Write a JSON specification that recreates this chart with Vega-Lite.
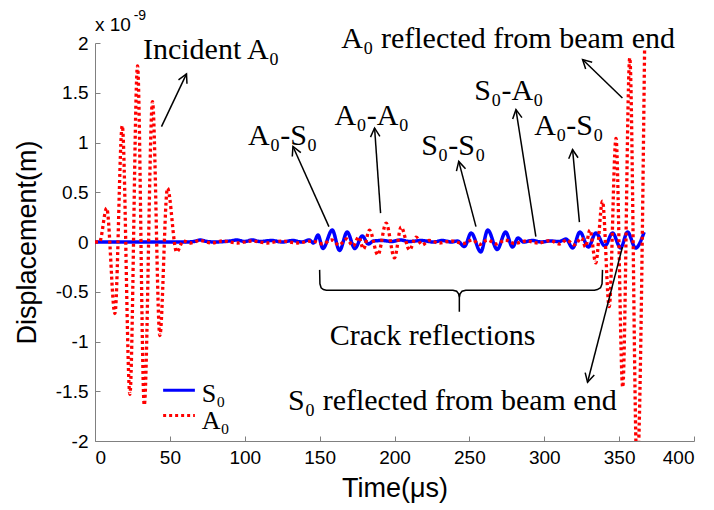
{
  "$schema": "https://vega.github.io/schema/vega-lite/v6.json",
  "autosize": {"type": "none"},
  "width": 599,
  "height": 398,
  "padding": {"left": 95, "top": 43, "right": 20, "bottom": 69},
  "background": "white",
  "config": {
    "view": {"stroke": null},
    "axis": {
      "grid": false,
      "domainColor": "#808080",
      "tickColor": "#808080",
      "domainWidth": 1,
      "tickWidth": 1,
      "tickSize": -5,
      "labelPadding": 12,
      "labelFont": "Liberation Sans",
      "labelFontSize": 19,
      "labelColor": "#000000",
      "titleFont": "Liberation Sans",
      "titleFontSize": 27,
      "titleFontWeight": "normal",
      "titleColor": "#000000"
    }
  },
  "datasets": {
    "waves": [
      {"t": 0, "v": 0, "s": "S₀"}, {"t": 60, "v": 0, "s": "S₀"}, {"t": 66, "v": 0.005, "s": "S₀"}, {"t": 70, "v": 0.02, "s": "S₀"}, {"t": 75, "v": 0.005, "s": "S₀"}, {"t": 80, "v": 0, "s": "S₀"}, {"t": 90, "v": 0.01, "s": "S₀"}, {"t": 95, "v": 0.02, "s": "S₀"}, {"t": 100, "v": 0.005, "s": "S₀"}, {"t": 105, "v": 0.02, "s": "S₀"}, {"t": 110, "v": 0.005, "s": "S₀"}, {"t": 118, "v": 0.015, "s": "S₀"}, {"t": 125, "v": 0, "s": "S₀"}, {"t": 132, "v": 0.015, "s": "S₀"}, {"t": 138, "v": 0, "s": "S₀"}, {"t": 143, "v": 0.02, "s": "S₀"}, {"t": 146, "v": -0.01, "s": "S₀"}, {"t": 148.9, "v": 0.07, "s": "S₀"}, {"t": 152.2, "v": -0.065, "s": "S₀"}, {"t": 158.4, "v": 0.12, "s": "S₀"}, {"t": 163.3, "v": -0.085, "s": "S₀"}, {"t": 168.4, "v": 0.1, "s": "S₀"}, {"t": 173.5, "v": -0.065, "s": "S₀"}, {"t": 178.5, "v": 0.06, "s": "S₀"}, {"t": 182.5, "v": -0.02, "s": "S₀"}, {"t": 186, "v": 0.01, "s": "S₀"}, {"t": 192, "v": 0.015, "s": "S₀"}, {"t": 198, "v": 0.005, "s": "S₀"}, {"t": 204, "v": 0.02, "s": "S₀"}, {"t": 210, "v": 0.005, "s": "S₀"}, {"t": 218, "v": 0.015, "s": "S₀"}, {"t": 226, "v": 0, "s": "S₀"}, {"t": 232, "v": 0.015, "s": "S₀"}, {"t": 238, "v": 0, "s": "S₀"}, {"t": 242, "v": 0.01, "s": "S₀"}, {"t": 246.7, "v": -0.045, "s": "S₀"}, {"t": 251.2, "v": 0.09, "s": "S₀"}, {"t": 257.6, "v": -0.1, "s": "S₀"}, {"t": 262.3, "v": 0.12, "s": "S₀"}, {"t": 268.6, "v": -0.075, "s": "S₀"}, {"t": 274.2, "v": 0.1, "s": "S₀"}, {"t": 278.8, "v": -0.05, "s": "S₀"}, {"t": 282.5, "v": 0.04, "s": "S₀"}, {"t": 286, "v": 0, "s": "S₀"}, {"t": 292, "v": 0.015, "s": "S₀"}, {"t": 298, "v": 0, "s": "S₀"}, {"t": 304, "v": 0.01, "s": "S₀"}, {"t": 310, "v": 0.005, "s": "S₀"}, {"t": 314.5, "v": 0.03, "s": "S₀"}, {"t": 319, "v": -0.06, "s": "S₀"}, {"t": 323.8, "v": 0.1, "s": "S₀"}, {"t": 329.5, "v": -0.05, "s": "S₀"}, {"t": 334.4, "v": 0.09, "s": "S₀"}, {"t": 340.5, "v": -0.04, "s": "S₀"}, {"t": 345.6, "v": 0.09, "s": "S₀"}, {"t": 351, "v": -0.06, "s": "S₀"}, {"t": 355.6, "v": 0.1, "s": "S₀"}, {"t": 361, "v": -0.06, "s": "S₀"}, {"t": 366.7, "v": 0.1, "s": "S₀"},
      {"t": 0, "v": 0, "s": "A₀"}, {"t": 3, "v": 0, "s": "A₀"}, {"t": 7.8, "v": 0.34, "s": "A₀"}, {"t": 13.3, "v": -0.72, "s": "A₀"}, {"t": 18.2, "v": 1.17, "s": "A₀"}, {"t": 23.3, "v": -1.53, "s": "A₀"}, {"t": 28.4, "v": 1.77, "s": "A₀"}, {"t": 32.9, "v": -1.64, "s": "A₀"}, {"t": 38.4, "v": 1.41, "s": "A₀"}, {"t": 43.3, "v": -0.94, "s": "A₀"}, {"t": 48.4, "v": 0.54, "s": "A₀"}, {"t": 54.5, "v": -0.1, "s": "A₀"}, {"t": 59, "v": 0.01, "s": "A₀"}, {"t": 64, "v": -0.01, "s": "A₀"}, {"t": 70, "v": 0.015, "s": "A₀"}, {"t": 78, "v": -0.01, "s": "A₀"}, {"t": 85, "v": 0.01, "s": "A₀"}, {"t": 95, "v": -0.01, "s": "A₀"}, {"t": 105, "v": 0.01, "s": "A₀"}, {"t": 115, "v": -0.01, "s": "A₀"}, {"t": 125, "v": 0.01, "s": "A₀"}, {"t": 135, "v": -0.01, "s": "A₀"}, {"t": 145, "v": 0.01, "s": "A₀"}, {"t": 152, "v": -0.02, "s": "A₀"}, {"t": 158, "v": 0.02, "s": "A₀"}, {"t": 163, "v": -0.03, "s": "A₀"}, {"t": 168, "v": 0.03, "s": "A₀"}, {"t": 172.5, "v": -0.04, "s": "A₀"}, {"t": 176, "v": 0.05, "s": "A₀"}, {"t": 179.3, "v": -0.07, "s": "A₀"}, {"t": 183.3, "v": 0.12, "s": "A₀"}, {"t": 188.9, "v": -0.13, "s": "A₀"}, {"t": 194.4, "v": 0.19, "s": "A₀"}, {"t": 200, "v": -0.16, "s": "A₀"}, {"t": 204.4, "v": 0.15, "s": "A₀"}, {"t": 210, "v": -0.08, "s": "A₀"}, {"t": 214.4, "v": 0.05, "s": "A₀"}, {"t": 218.5, "v": -0.03, "s": "A₀"}, {"t": 223, "v": 0.015, "s": "A₀"}, {"t": 230, "v": -0.01, "s": "A₀"}, {"t": 238, "v": 0.01, "s": "A₀"}, {"t": 246, "v": -0.015, "s": "A₀"}, {"t": 252, "v": 0.02, "s": "A₀"}, {"t": 257, "v": -0.025, "s": "A₀"}, {"t": 262, "v": 0.02, "s": "A₀"}, {"t": 268, "v": -0.02, "s": "A₀"}, {"t": 274, "v": 0.02, "s": "A₀"}, {"t": 280, "v": -0.015, "s": "A₀"}, {"t": 288, "v": 0.01, "s": "A₀"}, {"t": 296, "v": -0.01, "s": "A₀"}, {"t": 304, "v": 0.015, "s": "A₀"}, {"t": 310, "v": -0.02, "s": "A₀"}, {"t": 315, "v": 0.02, "s": "A₀"}, {"t": 320, "v": -0.03, "s": "A₀"}, {"t": 325, "v": 0.04, "s": "A₀"}, {"t": 327.5, "v": -0.05, "s": "A₀"}, {"t": 330.5, "v": 0.12, "s": "A₀"}, {"t": 334.4, "v": -0.21, "s": "A₀"}, {"t": 338.9, "v": 0.41, "s": "A₀"}, {"t": 343.4, "v": -0.65, "s": "A₀"}, {"t": 347.9, "v": 1.04, "s": "A₀"}, {"t": 352.4, "v": -1.46, "s": "A₀"}, {"t": 357.1, "v": 1.85, "s": "A₀"}, {"t": 362, "v": -2.3, "s": "A₀"}, {"t": 367, "v": 1.93, "s": "A₀"}
    ],
    "legendLines": [
      {"s": "S₀", "t": 45.5, "v": -1.49}, {"s": "S₀", "t": 66.7, "v": -1.49},
      {"s": "A₀", "t": 45.5, "v": -1.743}, {"s": "A₀", "t": 66.7, "v": -1.743}
    ],
    "legendLabels": [
      {"label": "S₀", "t": 71.3, "v": -1.61},
      {"label": "A₀", "t": 71.3, "v": -1.875}
    ],
    "labels": [
      {"label": "Incident A₀", "t": 32.0, "v": 1.84},
      {"label": "A₀-S₀", "t": 102.2, "v": 0.977},
      {"label": "A₀-A₀", "t": 160.0, "v": 1.179},
      {"label": "S₀-S₀", "t": 217.8, "v": 0.877},
      {"label": "S₀-A₀", "t": 253.3, "v": 1.431},
      {"label": "A₀-S₀", "t": 293.3, "v": 1.078},
      {"label": "A₀ reflected from beam end", "t": 164.5, "v": 1.952},
      {"label": "Crack reflections", "t": 156.7, "v": -1.038},
      {"label": "S₀ reflected from beam end", "t": 128.9, "v": -1.693}
    ],
    "arrows": [
      {"t1": 44.4, "v1": 1.16, "t2": 61.1, "v2": 1.69},
      {"t1": 156.2, "v1": 0.154, "t2": 132.2, "v2": 0.96},
      {"t1": 190.7, "v1": 0.29, "t2": 186.7, "v2": 1.146},
      {"t1": 254.4, "v1": 0.154, "t2": 242.9, "v2": 0.81},
      {"t1": 294.4, "v1": 0.053, "t2": 281.1, "v2": 1.33},
      {"t1": 323.5, "v1": 0.2, "t2": 318.9, "v2": 0.93},
      {"t1": 352.2, "v1": 1.448, "t2": 325.6, "v2": 1.834},
      {"t1": 352.2, "v1": -0.05, "t2": 328.9, "v2": -1.41}
    ],
    "brace": [
      {"o": 1, "t": 150.0, "v": -0.28}, {"o": 2, "t": 150.2, "v": -0.42}, {"o": 3, "t": 151.0, "v": -0.46}, {"o": 4, "t": 152.5, "v": -0.478}, {"o": 5, "t": 154.5, "v": -0.484},
      {"o": 6, "t": 239.0, "v": -0.484}, {"o": 7, "t": 241.5, "v": -0.495}, {"o": 8, "t": 242.8, "v": -0.52}, {"o": 9, "t": 243.3, "v": -0.56}, {"o": 10, "t": 243.3, "v": -0.70},
      {"o": 11, "t": 243.3, "v": -0.56}, {"o": 12, "t": 243.8, "v": -0.52}, {"o": 13, "t": 245.1, "v": -0.495}, {"o": 14, "t": 247.6, "v": -0.484}, {"o": 15, "t": 333.5, "v": -0.484},
      {"o": 16, "t": 335.5, "v": -0.478}, {"o": 17, "t": 337.6, "v": -0.46}, {"o": 18, "t": 338.6, "v": -0.42}, {"o": 19, "t": 338.9, "v": -0.28}
    ],
    "expo": [{"label": "x 10", "t": 0, "v": 2.119}],
    "expsup": [{"label": "-9", "t": 25.8, "v": 2.235}]
  },
  "layer": [
    {
      "data": {"name": "waves"},
      "transform": [{"filter": "datum.s === 'S₀'"}],
      "mark": {"type": "line", "clip": true, "strokeWidth": 3.5, "interpolate": "monotone"},
      "encoding": {
        "x": {"field": "t", "type": "quantitative", "scale": {"domain": [0, 400], "nice": false}, "axis": {"values": [0, 50, 100, 150, 200, 250, 300, 350, 400], "title": "Time(μs)", "titlePadding": 8}},
        "y": {"field": "v", "type": "quantitative", "scale": {"domain": [-2, 2], "nice": false}, "axis": {"values": [-2, -1.5, -1, -0.5, 0, 0.5, 1, 1.5, 2], "title": "Displacement(m)", "titlePadding": 14, "labelExpr": "replace(format(datum.value, '~g'), '−', '-')"}},
        "color": {"field": "s", "type": "nominal", "legend": null, "scale": {"domain": ["S₀", "A₀"], "range": ["#0000ff", "#ff0000"]}},
        "strokeDash": {"field": "s", "type": "nominal", "legend": null, "scale": {"domain": ["S₀", "A₀"], "range": [[1, 0], [3, 3]]}}
      }
    },
    {
      "data": {"name": "waves"},
      "transform": [{"filter": "datum.s === 'A₀'"}],
      "mark": {"type": "line", "clip": true, "strokeWidth": 3.3, "interpolate": "monotone", "strokeCap": "butt"},
      "encoding": {
        "x": {"field": "t", "type": "quantitative"},
        "y": {"field": "v", "type": "quantitative"},
        "color": {"field": "s", "type": "nominal", "legend": null},
        "strokeDash": {"field": "s", "type": "nominal", "legend": null}
      }
    },
    {
      "data": {"name": "legendLines"},
      "mark": {"type": "line", "strokeWidth": 3, "strokeCap": "butt"},
      "encoding": {
        "x": {"field": "t", "type": "quantitative"},
        "y": {"field": "v", "type": "quantitative"},
        "color": {"field": "s", "type": "nominal", "legend": null},
        "strokeDash": {"field": "s", "type": "nominal", "legend": null}
      }
    },
    {
      "data": {"name": "legendLabels"},
      "mark": {"type": "text", "font": "Liberation Serif", "fontSize": 26, "align": "left", "baseline": "alphabetic", "color": "#000000"},
      "encoding": {
        "x": {"field": "t", "type": "quantitative"},
        "y": {"field": "v", "type": "quantitative"},
        "text": {"field": "label"}
      }
    },
    {
      "data": {"name": "brace"},
      "mark": {"type": "line", "color": "#000000", "strokeWidth": 1.5},
      "encoding": {
        "x": {"field": "t", "type": "quantitative"},
        "y": {"field": "v", "type": "quantitative"},
        "order": {"field": "o", "type": "quantitative"}
      }
    },
    {
      "data": {"name": "arrows"},
      "mark": {"type": "rule", "color": "#000000", "strokeWidth": 1.5},
      "encoding": {
        "x": {"field": "t1", "type": "quantitative"},
        "y": {"field": "v1", "type": "quantitative"},
        "x2": {"field": "t2"},
        "y2": {"field": "v2"}
      }
    },
    {
      "data": {"name": "arrows"},
      "transform": [{"calculate": "atan2((datum.t2 - datum.t1) * 1.4975, (datum.v2 - datum.v1) * 99.5) * 180 / PI", "as": "ang"}],
      "mark": {"type": "point", "shape": "M-0.47,0.88L0,0L0.47,0.88", "filled": false, "stroke": "#000000", "strokeWidth": 1.5, "size": 400, "opacity": 1},
      "encoding": {
        "x": {"field": "t2", "type": "quantitative"},
        "y": {"field": "v2", "type": "quantitative"},
        "angle": {"field": "ang", "type": "quantitative", "scale": null}
      }
    },
    {
      "data": {"name": "labels"},
      "mark": {"type": "text", "font": "Liberation Serif", "fontSize": 30, "align": "left", "baseline": "alphabetic", "color": "#000000"},
      "encoding": {
        "x": {"field": "t", "type": "quantitative"},
        "y": {"field": "v", "type": "quantitative"},
        "text": {"field": "label"}
      }
    },
    {
      "data": {"name": "expo"},
      "mark": {"type": "text", "font": "Liberation Sans", "fontSize": 19, "align": "left", "baseline": "alphabetic", "color": "#000000"},
      "encoding": {
        "x": {"field": "t", "type": "quantitative"},
        "y": {"field": "v", "type": "quantitative"},
        "text": {"field": "label"}
      }
    },
    {
      "data": {"name": "expsup"},
      "mark": {"type": "text", "font": "Liberation Sans", "fontSize": 14, "align": "left", "baseline": "alphabetic", "color": "#000000"},
      "encoding": {
        "x": {"field": "t", "type": "quantitative"},
        "y": {"field": "v", "type": "quantitative"},
        "text": {"field": "label"}
      }
    }
  ]
}
